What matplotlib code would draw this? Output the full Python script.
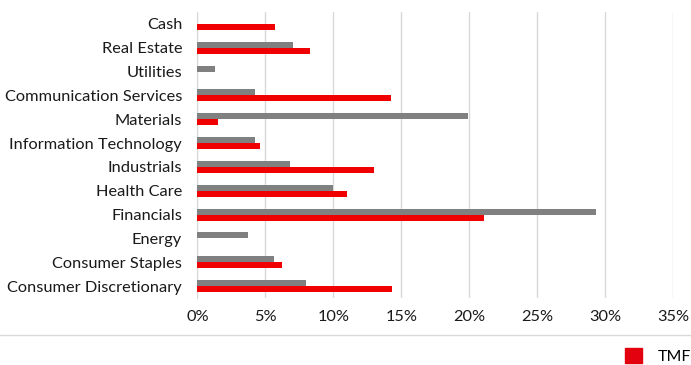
import matplotlib
matplotlib.use("Agg")
import matplotlib.pyplot as plt
from matplotlib.patches import Patch
from matplotlib.lines import Line2D
from matplotlib.ticker import PercentFormatter
import numpy as np

plt.rcParams['font.family'] = ['Lato', 'DejaVu Sans']

# Sector weights (%), bottom to top as drawn
sectors = ['Consumer Discretionary', 'Consumer Staples', 'Energy', 'Financials',
           'Health Care', 'Industrials', 'Information Technology', 'Materials',
           'Communication Services', 'Utilities', 'Real Estate', 'Cash']
benchmark = [8.0, 5.6, 3.7, 29.3, 10.0, 6.8, 4.2, 19.9, 4.2, 1.3, 7.0, 0.0]
tmf = [14.3, 6.2, 0.0, 21.1, 11.0, 13.0, 4.6, 1.5, 14.2, 0.0, 8.3, 5.7]
xticks = [0, 5, 10, 15, 20, 25, 30, 35]

RED = '#f00000'
GRAY = '#808080'
bar_h = 0.25

fig = plt.figure(figsize=(6.91, 3.65), dpi=100)
ax = fig.add_axes([0.2858, 0.1836, 0.6886, 0.7834])

y = np.arange(len(sectors))
ax.barh(y + bar_h / 2, benchmark, height=bar_h, color=GRAY, zorder=3)
ax.barh(y - bar_h / 2, tmf, height=bar_h, color=RED, zorder=3)

ax.set_xlim(0, 35)
ax.set_ylim(-0.5, len(sectors) - 0.5)
ax.set_xticks(xticks)
ax.xaxis.set_major_formatter(PercentFormatter(decimals=0))
ax.set_yticks(y)
ax.set_yticklabels(sectors)
ax.tick_params(axis='both', length=0, labelsize=11.8, colors='#1a1a1a')
ax.tick_params(axis='x', pad=9)
ax.tick_params(axis='y', pad=11)

ax.grid(axis='x', color='#d9d9d9', linewidth=1, zorder=0)
for side in ['top', 'right', 'bottom']:
    ax.spines[side].set_visible(False)
ax.spines['left'].set_color('#d9d9d9')

# separator line above legend
fig.add_artist(Line2D([0, 1], [1 - 335 / 365] * 2, transform=fig.transFigure,
                      color='#d9d9d9', linewidth=1))

fig.legend(handles=[Patch(color='#e3000f', label='TMF')], loc='center left',
           bbox_to_anchor=(0.905, 0.025), frameon=False, fontsize=11.5,
           handlelength=1.05, handleheight=1.1, handletextpad=1.0,
           borderpad=0, borderaxespad=0)

fig.savefig('out.png', dpi=100)
